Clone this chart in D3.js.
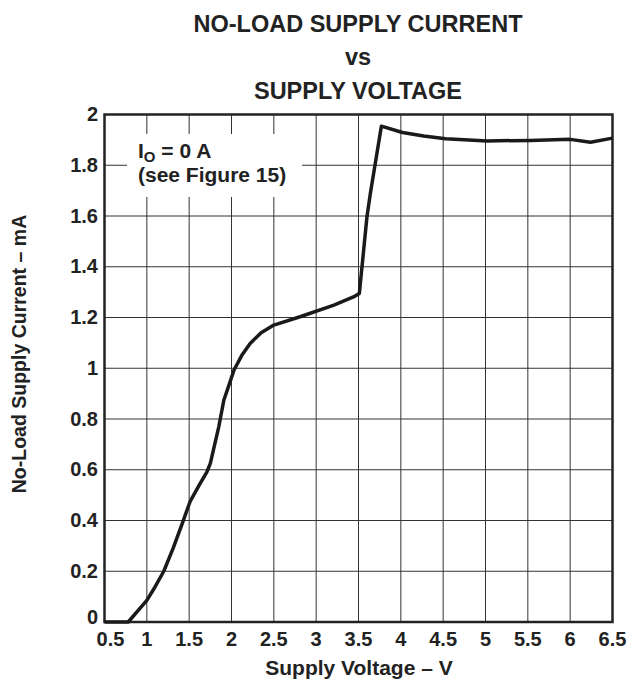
<!DOCTYPE html>
<html lang="en">
<head>
<meta charset="utf-8">
<title>No-Load Supply Current vs Supply Voltage</title>
<script src="https://cdn.jsdelivr.net/npm/d3@7"></script>
<style>
  body { margin: 0; background: #fff; }
  text { font-family: "Liberation Sans", Arial, sans-serif; font-weight: bold; fill: #222; }
</style>
</head>
<body>
<script>
// values
var volts   = [0.5, 0.78, 1.0, 1.1, 1.2, 1.31, 1.42, 1.51, 1.62, 1.71, 1.75, 1.85, 1.91, 1.95, 2.03, 2.12, 2.22, 2.35, 2.5, 2.81, 3.21, 3.44, 3.51, 3.6, 3.64, 3.77, 4.02, 4.27, 4.53, 5.02, 5.53, 6.0, 6.24, 6.5]
var current = [0, 0, 0.085, 0.14, 0.2, 0.29, 0.39, 0.474, 0.54, 0.592, 0.625, 0.77, 0.875, 0.914, 0.993, 1.05, 1.098, 1.14, 1.17, 1.203, 1.249, 1.281, 1.295, 1.597, 1.689, 1.954, 1.929, 1.915, 1.904, 1.896, 1.898, 1.902, 1.891, 1.907]
var xTicks = [0.5, 1, 1.5, 2, 2.5, 3, 3.5, 4, 4.5, 5, 5.5, 6, 6.5]
var yTicks = [0, 0.2, 0.4, 0.6, 0.8, 1, 1.2, 1.4, 1.6, 1.8, 2]
var titleLines = ["NO-LOAD SUPPLY CURRENT", "vs", "SUPPLY VOLTAGE"]

var width = 631, height = 681
var plot = {left: 104.5, right: 612.5, top: 114.5, bottom: 622}

var svg = d3.select("body").append("svg")
  .attr("width", width).attr("height", height)

var x = d3.scaleLinear().domain([0.5, 6.5]).range([plot.left, plot.right])
var y = d3.scaleLinear().domain([0, 2]).range([plot.bottom, plot.top])

// grid
svg.append("g").selectAll("line.v").data(xTicks).enter().append("line")
  .attr("x1", d => x(d)).attr("x2", d => x(d))
  .attr("y1", plot.top).attr("y2", plot.bottom)
  .attr("stroke", "#333").attr("stroke-width", 1)
svg.append("g").selectAll("line.h").data(yTicks).enter().append("line")
  .attr("x1", plot.left).attr("x2", plot.right)
  .attr("y1", d => y(d)).attr("y2", d => y(d))
  .attr("stroke", "#333").attr("stroke-width", 1)

// legend box blanks the grid behind it
svg.append("rect").attr("x", 127).attr("y", 134).attr("width", 175).attr("height", 63).attr("fill", "#fff")

var leg = svg.append("text").attr("x", 138).attr("y", 157.5).style("font-size", "21px")
leg.append("tspan").text("I")
leg.append("tspan").attr("dy", 4).style("font-size", "15px").text("O")
leg.append("tspan").attr("dy", -4).text(" = 0 A")
svg.append("text").attr("x", 138).attr("y", 182).style("font-size", "21px").text("(see Figure 15)")

// frame
svg.append("rect").attr("x", plot.left).attr("y", plot.top)
  .attr("width", plot.right - plot.left).attr("height", plot.bottom - plot.top)
  .attr("fill", "none").attr("stroke", "#222").attr("stroke-width", 2.5)

// curve
var pts = volts.map((v, i) => [v, current[i]])
svg.append("path").datum(pts)
  .attr("d", d3.line().x(d => x(d[0])).y(d => y(d[1])))
  .attr("fill", "none").attr("stroke", "#1a1a1a").attr("stroke-width", 3.5)
  .attr("stroke-linejoin", "round")

// tick labels (first ones nudged away from the corner, as in the original)
svg.append("g").selectAll("text").data(xTicks).enter().append("text")
  .attr("x", (d, i) => x(d) + (i === 0 ? 6 : 0)).attr("y", 646).attr("text-anchor", "middle")
  .style("font-size", "20px").text(d => d)
svg.append("g").selectAll("text").data(yTicks).enter().append("text")
  .attr("x", 98).attr("y", (d, i) => y(d) + (i === 0 ? 1.5 : 6.5)).attr("text-anchor", "end")
  .style("font-size", "20px").text(d => d)

// titles
svg.append("g").selectAll("text").data(titleLines).enter().append("text")
  .attr("x", 358).attr("y", (d, i) => 31.5 + i * 33.8).attr("text-anchor", "middle")
  .style("font-size", "23.5px").text(d => d)

svg.append("text").attr("x", 359).attr("y", 675).attr("text-anchor", "middle")
  .style("font-size", "21px").text("Supply Voltage \u2013 V")
svg.append("text").attr("transform", "translate(26,354) rotate(-90)").attr("text-anchor", "middle")
  .style("font-size", "19.5px").text("No-Load Supply Current \u2013 mA")
</script>
</body>
</html>
